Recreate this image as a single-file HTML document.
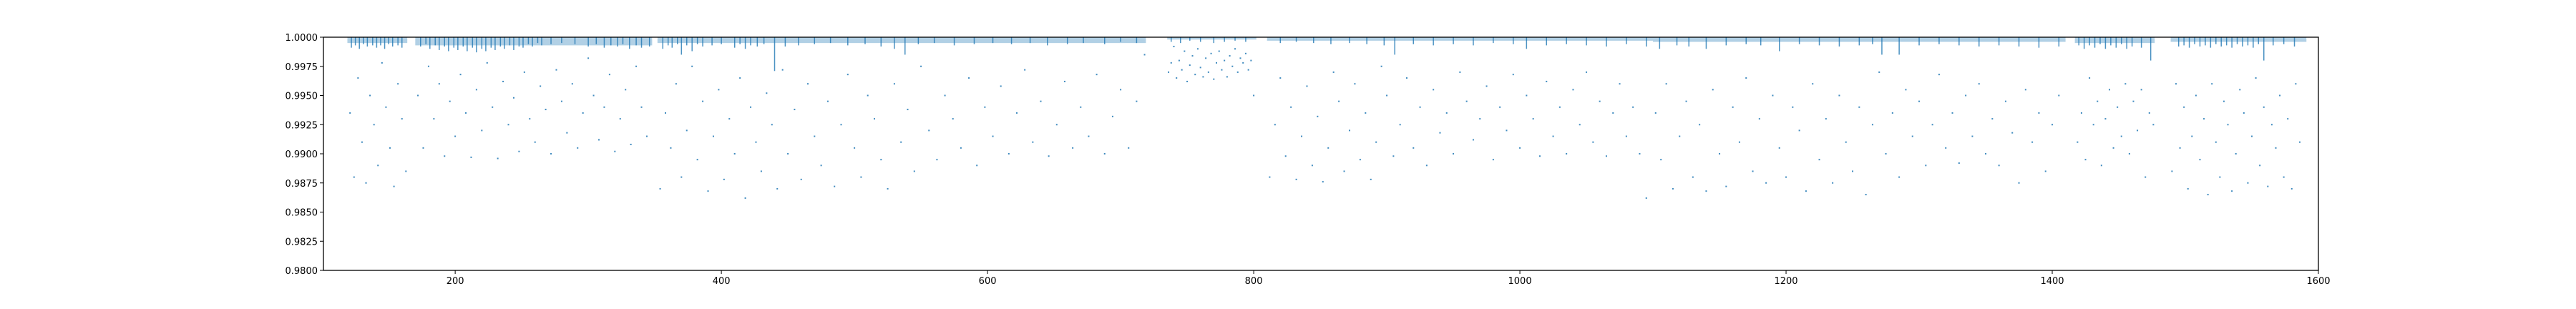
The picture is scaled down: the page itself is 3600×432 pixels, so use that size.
<!DOCTYPE html>
<html><head><meta charset="utf-8">
<style>
html,body{margin:0;padding:0;background:#fff;}
svg{display:block;}
text{font-family:"DejaVu Sans","Liberation Sans",sans-serif;font-size:13px;fill:#000;}
</style></head>
<body>
<svg id="chart" width="3600" height="432" viewBox="0 0 3600 432" xmlns="http://www.w3.org/2000/svg">
<rect x="0" y="0" width="3600" height="432" fill="#fff"/>
<g id="marks"></g>
<g id="axes"></g>
</svg>
<script>
// ---- data ----
const xTicks = [200, 400, 600, 800, 1000, 1200, 1400, 1600];
const yTicks = [0.98, 0.9825, 0.985, 0.9875, 0.99, 0.9925, 0.995, 0.9975, 1.0];
const yTickLabels = ["0.9800","0.9825","0.9850","0.9875","0.9900","0.9925","0.9950","0.9975","1.0000"];
// observing segments: start, end, top-band depth
const segStart = [119, 170, 352, 735, 810, 1100, 1417, 1489];
const segEnd   = [164, 348, 719, 802, 1100, 1410, 1477, 1591];
const segBand  = [0.9995, 0.9993, 0.9995, 0.9998, 0.9997, 0.9996, 0.9995, 0.9996];
// transit-like dips (time, min flux)
const dipTimes = [122,125,128,131,134,138,141,144,147,150,153,157,160,174,178,181,185,188,192,195,199,202,206,209,213,216,220,223,227,230,234,237,241,244,248,251,255,258,262,265,272,280,290,300,306,312,317,322,326,331,336,340,346,356,360,363,367,370,374,378,382,386,393,400,410,414,418,422,427,432,440,448,458,470,482,495,508,520,530,538,548,560,575,590,604,618,632,645,660,672,688,700,712,738,745,752,760,770,778,786,794,820,832,845,858,872,885,898,906,920,935,950,965,980,995,1005,1020,1035,1050,1065,1080,1095,1105,1118,1127,1140,1155,1170,1181,1195,1210,1225,1240,1255,1265,1272,1285,1300,1315,1330,1345,1360,1375,1390,1405,1420,1424,1428,1432,1436,1440,1444,1448,1452,1456,1460,1467,1474,1495,1499,1503,1507,1511,1515,1519,1523,1527,1531,1535,1539,1543,1547,1551,1555,1559,1566,1574,1582];
const dipFlux  = [0.9991,0.9993,0.9990,0.9994,0.9992,0.9993,0.9991,0.9993,0.9990,0.9994,0.9992,0.9993,0.9991,0.9992,0.9994,0.9990,0.9993,0.9989,0.9992,0.9988,0.9991,0.9989,0.9992,0.9988,0.9991,0.9987,0.9990,0.9988,0.9991,0.9989,0.9992,0.9990,0.9993,0.9989,0.9992,0.9991,0.9994,0.9992,0.9995,0.9993,0.9994,0.9995,0.9994,0.9992,0.9994,0.9991,0.9993,0.9992,0.9994,0.9990,0.9993,0.9991,0.9992,0.9990,0.9993,0.9991,0.9994,0.9985,0.9993,0.9988,0.9994,0.9992,0.9993,0.9994,0.9991,0.9994,0.9990,0.9993,0.9992,0.9994,0.9971,0.9992,0.9993,0.9994,0.9995,0.9993,0.9994,0.9992,0.9990,0.9985,0.9994,0.9995,0.9993,0.9994,0.9995,0.9994,0.9995,0.9993,0.9994,0.9995,0.9994,0.9996,0.9995,0.9996,0.9995,0.9997,0.9996,0.9995,0.9996,0.9997,0.9996,0.9995,0.9996,0.9995,0.9994,0.9995,0.9994,0.9993,0.9985,0.9994,0.9993,0.9994,0.9993,0.9995,0.9994,0.9990,0.9993,0.9994,0.9993,0.9992,0.9994,0.9992,0.9990,0.9993,0.9992,0.9990,0.9993,0.9994,0.9993,0.9988,0.9994,0.9993,0.9992,0.9993,0.9994,0.9985,0.9985,0.9993,0.9994,0.9993,0.9992,0.9993,0.9992,0.9991,0.9992,0.9993,0.9990,0.9993,0.9991,0.9994,0.9990,0.9993,0.9991,0.9994,0.9990,0.9992,0.9991,0.9980,0.9992,0.9993,0.9991,0.9994,0.9992,0.9993,0.9991,0.9994,0.9992,0.9993,0.9991,0.9994,0.9992,0.9993,0.9991,0.9994,0.9980,0.9993,0.9994,0.9992];
// scattered in-transit points (time, flux)
const ptTimes = [
121,124,127,130,133,136,139,142,145,148,151,154,157,160,163,
172,176,180,184,188,192,196,200,204,208,212,216,220,224,228,232,236,240,244,248,252,256,260,264,268,272,276,280,284,288,292,296,300,304,308,312,316,320,324,328,332,336,340,344,
354,358,362,366,370,374,378,382,386,390,394,398,402,406,410,414,418,422,426,430,434,438,442,446,450,455,460,465,470,475,480,485,490,495,500,505,510,515,520,525,530,535,540,545,550,556,562,568,574,580,586,592,598,604,610,616,622,628,634,640,646,652,658,664,670,676,682,688,694,700,706,712,718,
736,738,740,742,744,746,748,750,752,754,756,758,760,762,764,766,768,770,772,774,776,778,780,782,784,786,788,790,792,794,796,798,800,
812,816,820,824,828,832,836,840,844,848,852,856,860,864,868,872,876,880,884,888,892,896,900,905,910,915,920,925,930,935,940,945,950,955,960,965,970,975,980,985,990,995,1000,1005,1010,1015,1020,1025,1030,1035,1040,1045,1050,1055,1060,1065,1070,1075,1080,1085,1090,1095,
1102,1106,1110,1115,1120,1125,1130,1135,1140,1145,1150,1155,1160,1165,1170,1175,1180,1185,1190,1195,1200,1205,1210,1215,1220,1225,1230,1235,1240,1245,1250,1255,1260,1265,1270,1275,1280,1285,1290,1295,1300,1305,1310,1315,1320,1325,1330,1335,1340,1345,1350,1355,1360,1365,1370,1375,1380,1385,1390,1395,1400,1405,
1419,1422,1425,1428,1431,1434,1437,1440,1443,1446,1449,1452,1455,1458,1461,1464,1467,1470,1473,1476,
1490,1493,1496,1499,1502,1505,1508,1511,1514,1517,1520,1523,1526,1529,1532,1535,1538,1541,1544,1547,1550,1553,1556,1559,1562,1565,1568,1571,1574,1577,1580,1583,1586,1589];
const ptFlux = [
0.9935,0.9880,0.9965,0.9910,0.9875,0.9950,0.9925,0.9890,0.9978,0.9940,0.9905,0.9872,0.9960,0.9930,0.9885,
0.9950,0.9905,0.9975,0.9930,0.9960,0.9898,0.9945,0.9915,0.9968,0.9935,0.9897,0.9955,0.9920,0.9978,0.9940,0.9896,0.9962,0.9925,0.9948,0.9902,0.9970,0.9930,0.9910,0.9958,0.9938,0.9900,0.9972,0.9945,0.9918,0.9960,0.9905,0.9935,0.9982,0.9950,0.9912,0.9940,0.9968,0.9902,0.9930,0.9955,0.9908,0.9975,0.9940,0.9915,
0.9870,0.9935,0.9905,0.9960,0.9880,0.9920,0.9975,0.9895,0.9945,0.9868,0.9915,0.9955,0.9878,0.9930,0.9900,0.9965,0.9862,0.9940,0.9910,0.9885,0.9952,0.9925,0.9870,0.9972,0.9900,0.9938,0.9878,0.9960,0.9915,0.9890,0.9945,0.9872,0.9925,0.9968,0.9905,0.9880,0.9950,0.9930,0.9895,0.9870,0.9960,0.9910,0.9938,0.9885,0.9975,0.9920,0.9895,0.9950,0.9930,0.9905,0.9965,0.9890,0.9940,0.9915,0.9958,0.9900,0.9935,0.9972,0.9910,0.9945,0.9898,0.9925,0.9962,0.9905,0.9940,0.9915,0.9968,0.9900,0.9932,0.9955,0.9905,0.9945,
0.9985,0.9970,0.9978,0.9992,0.9965,0.9980,0.9972,0.9988,0.9962,0.9976,0.9984,0.9968,0.9990,0.9974,0.9966,0.9982,0.9970,0.9986,0.9964,0.9978,0.9988,0.9972,0.9980,0.9966,0.9984,0.9975,0.9990,0.9970,0.9982,0.9978,0.9986,0.9972,0.9980,
0.9950,0.9880,0.9925,0.9965,0.9898,0.9940,0.9878,0.9915,0.9958,0.9890,0.9932,0.9876,0.9905,0.9970,0.9945,0.9885,0.9920,0.9960,0.9895,0.9935,0.9878,0.9910,0.9975,0.9950,0.9898,0.9925,0.9965,0.9905,0.9940,0.9890,0.9955,0.9918,0.9935,0.9900,0.9970,0.9945,0.9912,0.9930,0.9958,0.9895,0.9940,0.9920,0.9968,0.9905,0.9950,0.9930,0.9898,0.9962,0.9915,0.9940,0.9900,0.9955,0.9925,0.9970,0.9910,0.9945,0.9898,0.9935,0.9960,0.9915,0.9940,0.9900,
0.9862,0.9935,0.9895,0.9960,0.9870,0.9915,0.9945,0.9880,0.9925,0.9868,0.9955,0.9900,0.9872,0.9940,0.9910,0.9965,0.9885,0.9930,0.9875,0.9950,0.9905,0.9880,0.9940,0.9920,0.9868,0.9960,0.9895,0.9930,0.9875,0.9950,0.9910,0.9885,0.9940,0.9865,0.9925,0.9970,0.9900,0.9935,0.9880,0.9955,0.9915,0.9945,0.9890,0.9925,0.9968,0.9905,0.9935,0.9892,0.9950,0.9915,0.9960,0.9900,0.9930,0.9890,0.9945,0.9918,0.9875,0.9955,0.9910,0.9935,0.9885,0.9925,
0.9950,0.9910,0.9935,0.9895,0.9965,0.9925,0.9945,0.9890,0.9930,0.9955,0.9905,0.9940,0.9915,0.9960,0.9900,0.9945,0.9920,0.9955,0.9880,0.9935,
0.9925,0.9885,0.9960,0.9905,0.9940,0.9870,0.9915,0.9950,0.9895,0.9930,0.9865,0.9960,0.9910,0.9880,0.9945,0.9925,0.9868,0.9900,0.9955,0.9935,0.9875,0.9915,0.9965,0.9890,0.9940,0.9872,0.9925,0.9905,0.9950,0.9880,0.9930,0.9870,0.9960,0.9910];

// ---- scales ----
const X0 = 452, X1 = 3240, Y0 = 52, Y1 = 378;
const xMin = 101, xMax = 1600, yMin = 0.98, yMax = 1.0;
function xs(t){ return X0 + (t - xMin) / (xMax - xMin) * (X1 - X0); }
function ys(f){ return Y1 - (f - yMin) / (yMax - yMin) * (Y1 - Y0); }

const NS = "http://www.w3.org/2000/svg";
const marks = document.getElementById('marks');
const axes = document.getElementById('axes');
const blue = "#1f77b4";

// top band per segment
for (let i = 0; i < segStart.length; i++) {
  const r = document.createElementNS(NS, 'rect');
  r.setAttribute('x', xs(segStart[i]));
  r.setAttribute('y', Y0);
  r.setAttribute('width', xs(segEnd[i]) - xs(segStart[i]));
  r.setAttribute('height', ys(segBand[i]) - Y0);
  r.setAttribute('fill', blue);
  r.setAttribute('opacity', '0.35');
  
  
  marks.appendChild(r);
}
// dips
const nDip = Math.min(dipTimes.length, dipFlux.length);
for (let i = 0; i < nDip; i++) {
  const l = document.createElementNS(NS, 'line');
  const x = xs(dipTimes[i]);
  l.setAttribute('x1', x); l.setAttribute('x2', x);
  l.setAttribute('y1', Y0); l.setAttribute('y2', ys(dipFlux[i]));
  l.setAttribute('stroke', blue); l.setAttribute('stroke-width', '1.5');
  l.setAttribute('opacity', '0.8');
  
  
  marks.appendChild(l);
}
// points
const nPt = Math.min(ptTimes.length, ptFlux.length);
for (let i = 0; i < nPt; i++) {
  const c = document.createElementNS(NS, 'rect');
  c.setAttribute('x', xs(ptTimes[i]) - 1);
  c.setAttribute('y', ys(ptFlux[i]) - 1);
  c.setAttribute('width', 2); c.setAttribute('height', 2);
  c.setAttribute('fill', blue);
  c.setAttribute('opacity', '0.85');
  
  
  marks.appendChild(c);
}

// frame
const frame = document.createElementNS(NS, 'rect');
frame.setAttribute('x', X0); frame.setAttribute('y', Y0);
frame.setAttribute('width', X1 - X0); frame.setAttribute('height', Y1 - Y0);
frame.setAttribute('fill', 'none'); frame.setAttribute('stroke', '#000'); frame.setAttribute('stroke-width', '1.3');


axes.appendChild(frame);

// x ticks
for (let i = 0; i < xTicks.length; i++) {
  const x = xs(xTicks[i]);
  const l = document.createElementNS(NS, 'line');
  l.setAttribute('x1', x); l.setAttribute('x2', x); l.setAttribute('y1', Y1); l.setAttribute('y2', Y1 + 5);
  l.setAttribute('stroke', '#000');
  
  
  axes.appendChild(l);
  const t = document.createElementNS(NS, 'text');
  t.setAttribute('x', x); t.setAttribute('y', Y1 + 19);
  t.setAttribute('text-anchor', 'middle');
  t.textContent = String(xTicks[i]);
  
  
  axes.appendChild(t);
}
// y ticks
for (let i = 0; i < yTicks.length; i++) {
  const y = ys(yTicks[i]);
  const l = document.createElementNS(NS, 'line');
  l.setAttribute('x1', X0 - 5); l.setAttribute('x2', X0); l.setAttribute('y1', y); l.setAttribute('y2', y);
  l.setAttribute('stroke', '#000');
  
  
  axes.appendChild(l);
  const t = document.createElementNS(NS, 'text');
  t.setAttribute('x', X0 - 8); t.setAttribute('y', y + 5);
  t.setAttribute('text-anchor', 'end');
  t.textContent = yTickLabels[i];
  
  
  axes.appendChild(t);
}
</script>
</body></html>
